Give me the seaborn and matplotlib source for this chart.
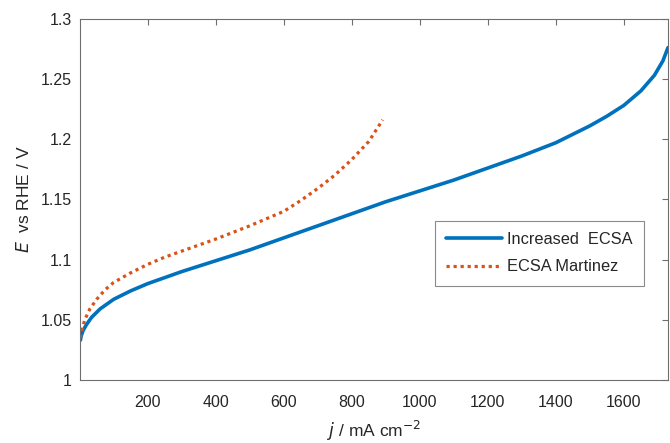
import matplotlib
matplotlib.use("Agg")
import matplotlib.pyplot as plt
from matplotlib.lines import Line2D
import seaborn as sns
import pandas as pd

# Increased ECSA (solid blue)
j_increased = [2, 5, 10, 20, 35, 60, 100, 150, 200, 250, 300, 400, 500, 600, 700, 800, 900,
               1000, 1100, 1200, 1300, 1400, 1450, 1500, 1550, 1600, 1650, 1690, 1715, 1730]
E_increased = [1.033, 1.037, 1.041, 1.046, 1.052, 1.059, 1.067, 1.074, 1.080, 1.085, 1.090,
               1.099, 1.108, 1.118, 1.128, 1.138, 1.148, 1.157, 1.166, 1.176, 1.186, 1.197,
               1.204, 1.211, 1.219, 1.228, 1.240, 1.253, 1.265, 1.276]

# ECSA Martinez (dotted orange)
j_martinez = [2, 8, 15, 30, 50, 75, 100, 150, 200, 250, 300, 400, 500, 600, 650, 700, 750,
              800, 850, 891]
E_martinez = [1.035, 1.043, 1.050, 1.059, 1.067, 1.075, 1.081, 1.089, 1.096, 1.102, 1.107,
              1.117, 1.128, 1.140, 1.149, 1.159, 1.170, 1.183, 1.198, 1.216]

series_names = ["Increased  ECSA", "ECSA Martinez"]
x_ticks = [200, 400, 600, 800, 1000, 1200, 1400, 1600]
y_ticks = [1.0, 1.05, 1.1, 1.15, 1.2, 1.25, 1.3]
y_tick_labels = ["1", "1.05", "1.1", "1.15", "1.2", "1.25", "1.3"]

df = pd.concat([
    pd.DataFrame({"j": j_increased, "E": E_increased, "series": series_names[0]}),
    pd.DataFrame({"j": j_martinez, "E": E_martinez, "series": series_names[1]}),
])

sns.set_style("white")
plt.rcParams["font.family"] = ["Liberation Sans", "DejaVu Sans"]

fig = plt.figure(figsize=(6.7, 4.43), dpi=100)
ax = fig.add_axes([80 / 670, 1 - 380 / 443, (668 - 80) / 670, (380 - 18.7) / 443])

blue = "#0072BD"
orange = "#D95319"
dotted = (0, (1.0, 1.2))
palette = {series_names[0]: blue, series_names[1]: orange}
sns.lineplot(data=df, x="j", y="E", hue="series", palette=palette, ax=ax,
             sort=False, estimator=None, legend=False)
lines = ax.get_lines()
lines[0].set_linewidth(2.6)
lines[0].set_linestyle("-")
lines[1].set_linewidth(2.3)
lines[1].set_linestyle(dotted)

ax.set_xlim(1, 1730)
ax.set_ylim(1.0, 1.3)
ax.set_xticks(x_ticks)
ax.set_xticklabels([str(t) for t in x_ticks])
ax.set_yticks(y_ticks)
ax.set_yticklabels(y_tick_labels)

for s in ax.spines.values():
    s.set_color("#6e6e6e")
    s.set_linewidth(0.8)
ax.tick_params(direction="in", length=4, width=0.8, color="#6e6e6e",
               labelsize=11.5, labelcolor="#262626", top=True, right=True)
ax.tick_params(axis="x", pad=11)
ax.tick_params(axis="y", pad=6)

ax.set_xlabel(r"$j$ / mA cm$^{-2}$", fontsize=12.5, color="#262626", labelpad=6)
ax.set_ylabel(r"$E$  vs RHE / V", fontsize=12.5, color="#262626", labelpad=6)

handles = [Line2D([0], [0], color=blue, lw=2.6),
           Line2D([0], [0], color=orange, lw=2.3, linestyle=dotted)]
leg = ax.legend(handles, series_names, loc="upper left",
                bbox_to_anchor=((435 - 80) / 588, 1 - (220.7 - 18.7) / 361.3),
                fontsize=11.8, frameon=True, fancybox=False, handlelength=3.4,
                borderpad=0.7, labelspacing=0.75, handletextpad=0.3,
                borderaxespad=0)
leg.get_frame().set_edgecolor("#6e6e6e")
leg.get_frame().set_linewidth(0.8)

fig.savefig("out.png", dpi=100)
